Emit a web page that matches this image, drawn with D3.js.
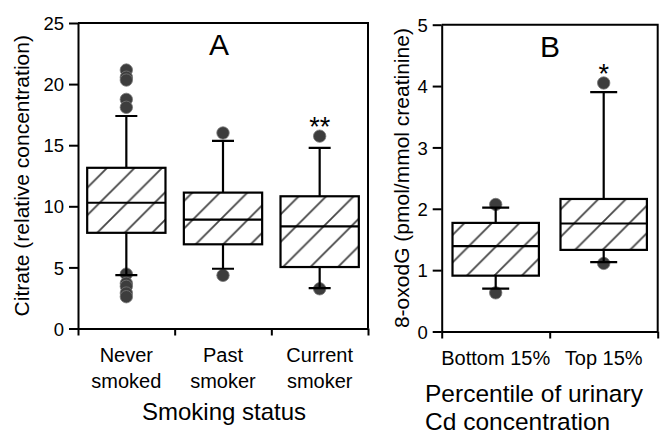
<!DOCTYPE html>
<html>
<head>
<meta charset="utf-8">
<script src="https://cdn.jsdelivr.net/npm/d3@7"></script>
<style>
  html, body { margin: 0; padding: 0; background: #fff; }
  svg { display: block; font-family: "Liberation Sans", Arial, Helvetica, sans-serif; }
</style>
</head>
<body>
<svg id="chart" width="662" height="435"></svg>
<script>
// Panel A: citrate by smoking status
const smokingCats = [["Never", "smoked"], ["Past", "smoker"], ["Current", "smoker"]];
const citrateQ1 = [7.83, 6.89, 5.03];
const citrateMedian = [10.29, 8.91, 8.36];
const citrateQ3 = [13.15, 11.12, 10.82];
const citrateWhiskLo = [4.37, 4.89, 3.3];
const citrateWhiskHi = [17.39, 15.35, 14.78];
const citrateOutliers = [
  [21.15, 20.56, 20.33, 18.75, 18.1, 4.45, 3.7, 3.45, 2.9, 2.6],
  [16.0, 4.35],
  [15.74, 3.25]
];
const citrateMarks = ["", "", "**"];
const citrateTicks = [0, 5, 10, 15, 20, 25];

// Panel B: 8-oxodG by urinary Cd percentile
const cdCats = ["Bottom 15%", "Top 15%"];
const oxoQ1 = [0.91, 1.33];
const oxoMedian = [1.39, 1.76];
const oxoQ3 = [1.77, 2.16];
const oxoWhiskLo = [0.70, 1.13];
const oxoWhiskHi = [2.02, 3.90];
const oxoOutliers = [[2.07, 0.63], [4.05, 1.11]];
const oxoMarks = ["", "*"];
const oxoTicks = [0, 1, 2, 3, 4, 5];

const svg = d3.select("#chart");

const defs = svg.append("defs");
const hatch = defs.append("pattern")
  .attr("id", "hatch")
  .attr("patternUnits", "userSpaceOnUse")
  .attr("width", 27.5)
  .attr("height", 27.5);
hatch.append("rect").attr("width", 27.5).attr("height", 27.5).attr("fill", "#fff");
hatch.append("path")
  .attr("d", "M-3,30.5 L30.5,-3 M-3,3 L3,-3 M24.5,30.5 L30.5,24.5")
  .attr("stroke", "#444")
  .attr("stroke-width", 1.8);

function drawPanel(opt) {
  const n = opt.q1.length;
  const x = d3.scaleLinear().domain([0, n]).range([opt.left, opt.right]);
  const y = d3.scaleLinear().domain([0, opt.yMax]).range([opt.bottom, opt.top]);
  const boxW = (x(1) - x(0)) * opt.boxFrac;
  const g = svg.append("g");

  // frame (top + right)
  g.append("path")
    .attr("d", `M${opt.left},${opt.top}H${opt.right}V${opt.bottom}`)
    .attr("fill", "none")
    .attr("stroke", "#000")
    .attr("stroke-width", 2);

  // y axis
  const yAx = g.append("g")
    .attr("transform", `translate(${opt.left},0)`)
    .call(d3.axisLeft(y).tickValues(opt.ticks).tickFormat(d3.format("d"))
      .tickSize(9).tickPadding(5).tickSizeOuter(0));
  yAx.select(".domain").attr("stroke-width", 2);
  yAx.selectAll(".tick line").attr("stroke-width", 2);
  yAx.selectAll("text")
    .style("font-size", "18.5px")
    .style("font-family", "inherit")
    .attr("fill", "#000")
    .attr("dy", "0.36em");

  // x axis, ticks at category boundaries
  const xAx = g.append("g")
    .attr("transform", `translate(0,${opt.bottom})`)
    .call(d3.axisBottom(x).tickValues(d3.range(n + 1)).tickSize(7).tickFormat("").tickSizeOuter(0));
  xAx.select(".domain").attr("stroke-width", 2);
  xAx.selectAll(".tick line").attr("stroke-width", 2);

  const idx = d3.range(n);
  const cx = i => x(i + 0.5);

  // outliers (under whisker caps)
  idx.forEach(i => {
    g.selectAll(null)
      .data(opt.outliers[i])
      .enter()
      .append("circle")
      .attr("cx", cx(i))
      .attr("cy", d => y(d))
      .attr("r", 6.2)
      .attr("fill", "#3d3d3d")
      .attr("stroke", "#777")
      .attr("stroke-width", 0.8);
  });

  // whiskers
  g.selectAll(".whisk")
    .data(idx)
    .enter()
    .append("path")
    .attr("class", "whisk")
    .attr("d", i => `M${cx(i)},${y(opt.hi[i])}V${y(opt.lo[i])}` +
      `M${cx(i) - opt.capW / 2},${y(opt.hi[i])}h${opt.capW}` +
      `M${cx(i) - opt.capW / 2},${y(opt.lo[i])}h${opt.capW}`)
    .attr("stroke", "#000")
    .attr("stroke-width", 2.2)
    .attr("fill", "none");

  // boxes
  g.selectAll(".box")
    .data(idx)
    .enter()
    .append("rect")
    .attr("class", "box")
    .attr("x", i => cx(i) - boxW / 2)
    .attr("y", i => y(opt.q3[i]))
    .attr("width", boxW)
    .attr("height", i => y(opt.q1[i]) - y(opt.q3[i]))
    .attr("fill", "url(#hatch)")
    .attr("stroke", "#000")
    .attr("stroke-width", 2.2);

  // medians
  g.selectAll(".med")
    .data(idx)
    .enter()
    .append("line")
    .attr("x1", i => cx(i) - boxW / 2)
    .attr("x2", i => cx(i) + boxW / 2)
    .attr("y1", i => y(opt.med[i]))
    .attr("y2", i => y(opt.med[i]))
    .attr("stroke", "#000")
    .attr("stroke-width", 2.2);

  // significance marks
  g.selectAll(".mark")
    .data(idx)
    .enter()
    .append("text")
    .attr("x", cx)
    .attr("y", i => y(d3.max(opt.outliers[i])) - 5)
    .attr("text-anchor", "middle")
    .style("font-size", "27px")
    .attr("dy", "0.55em")
    .attr("transform", "translate(0,-10)")
    .text(i => opt.marks[i]);

  // category labels
  idx.forEach(i => {
    const lines = [].concat(opt.cats[i]);
    const t = g.append("text")
      .attr("text-anchor", "middle")
      .style("font-size", "20px");
    lines.forEach((s, k) => {
      t.append("tspan").attr("x", cx(i)).attr("y", opt.bottom + 33 + k * 26).text(s);
    });
  });

  // panel letter
  g.append("text")
    .attr("x", opt.letterX)
    .attr("y", opt.top + 32)
    .attr("text-anchor", "middle")
    .style("font-size", "30px")
    .text(opt.letter);

  // y title
  g.append("text")
    .attr("transform", `translate(${opt.titleX},${(opt.top + opt.bottom) / 2}) rotate(-90)`)
    .attr("text-anchor", "middle")
    .style("font-size", "21px")
    .text(opt.yTitle);

  return g;
}

const gA = drawPanel({
  left: 78, right: 368, top: 23, bottom: 328.5, yMax: 25,
  ticks: citrateTicks, boxFrac: 0.81, capW: 22,
  q1: citrateQ1, med: citrateMedian, q3: citrateQ3,
  lo: citrateWhiskLo, hi: citrateWhiskHi, outliers: citrateOutliers,
  marks: citrateMarks, cats: smokingCats,
  letter: "A", letterX: 219, titleX: 29,
  yTitle: "Citrate (relative concentration)"
});
gA.append("text")
  .attr("x", 224).attr("y", 420)
  .attr("text-anchor", "middle")
  .style("font-size", "24px")
  .text("Smoking status");

const gB = drawPanel({
  left: 441.7, right: 657.7, top: 24.7, bottom: 331.5, yMax: 5,
  ticks: oxoTicks, boxFrac: 0.8, capW: 27,
  q1: oxoQ1, med: oxoMedian, q3: oxoQ3,
  lo: oxoWhiskLo, hi: oxoWhiskHi, outliers: oxoOutliers,
  marks: oxoMarks, cats: cdCats,
  letter: "B", letterX: 550, titleX: 409,
  yTitle: "8-oxodG (pmol/mmol creatinine)"
});
const ptitle = gB.append("text")
  .attr("x", 425)
  .style("font-size", "24.5px");
ptitle.append("tspan").attr("x", 425).attr("y", 401.5).text("Percentile of urinary");
ptitle.append("tspan").attr("x", 425).attr("y", 430).text("Cd concentration");
</script>
</body>
</html>
